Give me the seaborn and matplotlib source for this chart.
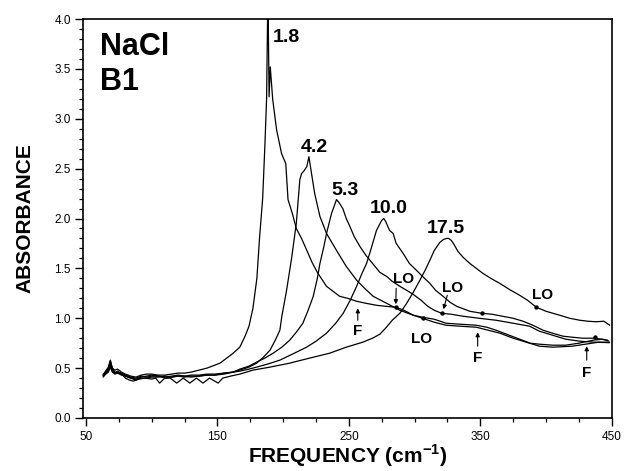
import numpy as np
import pandas as pd
import matplotlib
matplotlib.use("Agg")
import matplotlib.pyplot as plt
from matplotlib.ticker import MultipleLocator, FormatStrFormatter
import seaborn as sns

# ---------------- data ----------------
freq_18 = [63, 65, 67, 68.5, 70, 72, 74, 77, 80, 84, 88, 92, 96, 100, 105, 110, 115, 120, 125, 130,
           136, 142, 148, 152, 157, 162, 167, 171, 174, 177, 180, 182, 184.4, 186, 187.4, 188.4, 189.3,
           190.2, 192, 195, 198.8, 202, 203.7, 207, 210, 214, 218, 222, 226, 230, 233, 238, 243, 249,
           256, 263, 271, 278, 285.7, 292, 299, 306, 315, 324, 335, 347, 355, 362, 372, 380, 388, 395,
           405, 415, 425, 436, 443, 448]
abs_18 = [0.43, 0.47, 0.50, 0.56, 0.50, 0.48, 0.49, 0.46, 0.44, 0.42, 0.41, 0.43, 0.44, 0.44, 0.43, 0.43,
          0.44, 0.45, 0.45, 0.46, 0.48, 0.50, 0.53, 0.55, 0.60, 0.65, 0.71, 0.82, 0.92, 1.10, 1.40, 1.80,
          2.20, 2.70, 3.20, 4.30, 3.22, 3.52, 3.20, 2.89, 2.65, 2.55, 2.19, 2.05, 1.90, 1.80, 1.68, 1.56,
          1.46, 1.38, 1.32, 1.27, 1.22, 1.20, 1.17, 1.15, 1.13, 1.12, 1.11, 1.08, 1.03, 1.01, 0.99, 0.95,
          0.94, 0.93, 0.91, 0.88, 0.83, 0.79, 0.75, 0.74, 0.73, 0.73, 0.75, 0.78, 0.79, 0.77]

freq_42 = [63, 65, 67, 68.5, 70, 72, 74, 77, 80, 84, 88, 92, 96, 100, 105, 110, 115, 120, 125, 130,
           136, 142, 148, 155, 162, 167, 174, 179.8, 185, 190, 194, 197.5, 199, 202.6, 206.4, 210,
           212.7, 214, 216, 218, 219.6, 221.6, 224, 228, 233, 240.6, 248, 256, 262, 268.5, 278.7,
           288.8, 297, 306, 315, 324, 335, 347, 356, 365, 375, 385, 395, 405, 420, 430, 440, 448]
abs_42 = [0.42, 0.45, 0.48, 0.53, 0.47, 0.45, 0.47, 0.44, 0.42, 0.40, 0.39, 0.41, 0.42, 0.43, 0.42, 0.41,
          0.42, 0.43, 0.42, 0.43, 0.43, 0.44, 0.44, 0.45, 0.46, 0.48, 0.51, 0.55, 0.61, 0.68, 0.78, 0.88,
          1.02, 1.28, 1.60, 1.95, 2.39, 2.45, 2.48, 2.52, 2.62, 2.45, 2.25, 2.02, 1.85, 1.68, 1.52, 1.38,
          1.30, 1.22, 1.15, 1.08, 1.04, 1.00, 0.96, 0.93, 0.92, 0.91, 0.88, 0.85, 0.80, 0.76, 0.72, 0.71,
          0.72, 0.74, 0.76, 0.76]

freq_53 = [63, 65, 67, 68.5, 70, 72, 74, 77, 80, 84, 88, 92, 96, 100, 105, 110, 115, 120, 125, 130,
           136, 142, 148, 155, 162, 167, 174, 179.8, 186, 192.4, 199, 205, 210, 215, 219, 222.9, 226,
           228, 231, 233, 236.8, 240.6, 242.5, 245.4, 248, 250.8, 254, 258.4, 263, 268, 273.6, 278.7,
           283, 288.8, 294, 298.9, 305, 310, 315, 320.5, 328, 337, 349, 362, 375, 387.6, 395, 405,
           415, 425.7, 437, 448.5]
abs_53 = [0.44, 0.46, 0.49, 0.57, 0.49, 0.46, 0.46, 0.45, 0.43, 0.41, 0.40, 0.42, 0.41, 0.42, 0.42, 0.40,
          0.41, 0.42, 0.42, 0.41, 0.42, 0.43, 0.43, 0.44, 0.46, 0.49, 0.52, 0.56, 0.60, 0.65, 0.71, 0.78,
          0.86, 0.95, 1.08, 1.22, 1.40, 1.55, 1.72, 1.85, 2.05, 2.19, 2.16, 2.10, 2.00, 1.92, 1.82, 1.72,
          1.63, 1.55, 1.46, 1.42, 1.37, 1.32, 1.28, 1.24, 1.18, 1.12, 1.08, 1.05, 1.04, 1.02, 1.00, 0.98,
          0.95, 0.92, 0.87, 0.83, 0.79, 0.77, 0.76, 0.755]

freq_100 = [63, 65, 67, 68.5, 70, 72, 74, 77, 80, 84, 88, 92, 96, 100, 105, 110, 115, 120, 125, 130,
            136, 142, 148, 155, 162, 167, 174, 179.8, 188, 197.5, 207, 217.8, 225, 233, 240, 245.7, 251,
            255.9, 260, 263.5, 267, 271, 274.9, 276.6, 278, 281, 283.7, 286, 291.3, 296, 301.5, 306,
            311.6, 316, 321.7, 327, 332, 342, 351, 359, 367, 375, 382.5, 390, 397.8, 405, 413, 420,
            428, 437, 447]
abs_100 = [0.41, 0.44, 0.46, 0.51, 0.46, 0.44, 0.45, 0.43, 0.42, 0.40, 0.38, 0.40, 0.40, 0.41, 0.41, 0.42,
           0.41, 0.42, 0.41, 0.42, 0.42, 0.43, 0.43, 0.45, 0.46, 0.47, 0.49, 0.51, 0.54, 0.58, 0.64, 0.71,
           0.77, 0.85, 0.95, 1.05, 1.18, 1.32, 1.45, 1.55, 1.70, 1.88, 1.98, 2.00, 1.97, 1.88, 1.85, 1.75,
           1.65, 1.55, 1.48, 1.42, 1.35, 1.28, 1.22, 1.16, 1.12, 1.07, 1.05, 1.04, 1.02, 1.00, 0.97, 0.93,
           0.88, 0.85, 0.82, 0.81, 0.80, 0.80, 0.78]

freq_175 = [63, 65, 67, 68.5, 70, 72, 74, 77, 80, 83, 86, 90, 95, 100, 103, 106, 110, 114, 119, 124,
            129, 134, 139, 144, 150.5, 154, 160, 167, 177, 190, 205, 220, 235.5, 248, 260.6, 268, 273.6,
            278.6, 283, 288.8, 294, 299, 304, 308, 311.6, 315, 319.2, 322, 324.3, 326, 328, 330, 333,
            337, 342, 347, 352, 358, 364.8, 372, 380, 386, 392.7, 400, 410.5, 418, 425.7, 432, 438, 444,
            448.5]
abs_175 = [0.43, 0.47, 0.51, 0.58, 0.50, 0.45, 0.45, 0.44, 0.40, 0.38, 0.37, 0.39, 0.40, 0.39, 0.40, 0.35,
           0.40, 0.40, 0.35, 0.40, 0.35, 0.40, 0.35, 0.40, 0.35, 0.40, 0.42, 0.44, 0.48, 0.51, 0.55, 0.60,
           0.65, 0.71, 0.76, 0.80, 0.84, 0.91, 0.98, 1.05, 1.15, 1.26, 1.38, 1.48, 1.58, 1.68, 1.76, 1.79,
           1.80, 1.80, 1.78, 1.74, 1.67, 1.61, 1.55, 1.50, 1.45, 1.40, 1.35, 1.29, 1.23, 1.18, 1.11, 1.07,
           1.03, 1.00, 0.98, 0.97, 0.965, 0.97, 0.93]

curve_labels = ["1.8", "4.2", "5.3", "10.0", "17.5"]
curve_freqs = [freq_18, freq_42, freq_53, freq_100, freq_175]
curve_abs = [abs_18, abs_42, abs_53, abs_100, abs_175]

# peak labels: left x, baseline y
peak_label_x = [192.2, 213.5, 236.8, 266.0, 309.0]
peak_label_y = [3.77, 2.67, 2.24, 2.055, 1.855]

# LO markers on curves
lo_dot_freq = [285.7, 320.5, 351.0, 306.6, 392.7, 437.0]
lo_dot_abs = [1.11, 1.05, 1.05, 1.00, 1.11, 0.81]

# LO text (left x, baseline y)
lo_text_x = [283.7, 321.2, 389.7, 297.1]
lo_text_y = [1.35, 1.266, 1.19, 0.75]
# LO arrows (tail -> head)
lo_arrow_tail = [(286.0, 1.30), (324.9, 1.23)]
lo_arrow_head = [(285.7, 1.14), (322.0, 1.09)]

# F markers: x, arrow bottom, arrow top, text baseline
f_x = [256.8, 348.0, 431.0]
f_arrow_bottom = [0.98, 0.72, 0.58]
f_arrow_top = [1.10, 0.86, 0.72]
f_text_y = [0.83, 0.565, 0.414]

x_ticks = [50, 150, 250, 350, 450]

# ---------------- styling ----------------
sns.set_style("ticks")
plt.rcParams["font.family"] = ["Liberation Sans", "DejaVu Sans"]
plt.rcParams["mathtext.fontset"] = "custom"
plt.rcParams["mathtext.rm"] = "Liberation Sans"
plt.rcParams["mathtext.bf"] = "Liberation Sans:bold"
plt.rcParams["text.color"] = "black"
plt.rcParams["axes.labelcolor"] = "black"
plt.rcParams["xtick.color"] = "black"
plt.rcParams["ytick.color"] = "black"

fig = plt.figure(figsize=(6.24, 4.71), dpi=100)
ax = fig.add_axes([83.4 / 624, 53 / 471, (611.7 - 83.4) / 624, (418 - 19) / 471])

rows = []
for lab, fr, ab in zip(curve_labels, curve_freqs, curve_abs):
    for f, a in zip(fr, ab):
        rows.append({"freq": f, "absorbance": a, "temp": lab})
df = pd.DataFrame(rows)

sns.lineplot(data=df, x="freq", y="absorbance", hue="temp", units="temp", estimator=None,
             sort=False, palette=["black"] * 5, linewidth=0.9, legend=False, ax=ax)

sns.scatterplot(x=lo_dot_freq, y=lo_dot_abs, color="black", s=10, linewidth=0, ax=ax, zorder=5)

ax.set_xlim(48, 450)
ax.set_ylim(0, 4.0)
ax.set_xticks(x_ticks)
ax.xaxis.set_minor_locator(MultipleLocator(25))
ax.yaxis.set_major_locator(MultipleLocator(0.5))
ax.yaxis.set_minor_locator(MultipleLocator(0.1))
ax.yaxis.set_major_formatter(FormatStrFormatter("%.1f"))
ax.tick_params(axis="both", which="major", direction="out", length=6, width=1.0,
               labelsize=8.5, colors="black", pad=3)
ax.tick_params(axis="both", which="minor", direction="out", length=3, width=0.9)
for sp in ax.spines.values():
    sp.set_visible(True)
    sp.set_linewidth(1.2)
    sp.set_color("black")

ax.set_xlabel(r"FREQUENCY (cm$^{\mathbf{-1}}$)", fontsize=15, fontweight="bold", labelpad=0)
ax.set_ylabel("ABSORBANCE", fontsize=15, fontweight="bold", labelpad=14)

ax.text(60.6, 3.64, "NaCl", fontsize=22, fontweight="bold", ha="left", va="baseline")
ax.text(60.6, 3.29, "B1", fontsize=22, fontweight="bold", ha="left", va="baseline")

for lab, x, y in zip(curve_labels, peak_label_x, peak_label_y):
    ax.text(x, y, lab, fontsize=14, fontweight="bold", ha="left", va="baseline")

for x, y in zip(lo_text_x, lo_text_y):
    ax.text(x, y, "LO", fontsize=11, fontweight="bold", ha="left", va="baseline")

for t, h in zip(lo_arrow_tail, lo_arrow_head):
    ax.annotate("", xy=h, xytext=t,
                arrowprops=dict(arrowstyle="-|>", lw=0.8, color="black", mutation_scale=6,
                                shrinkA=0, shrinkB=0))

for x, yb, yt, yl in zip(f_x, f_arrow_bottom, f_arrow_top, f_text_y):
    ax.annotate("", xy=(x, yt), xytext=(x, yb),
                arrowprops=dict(arrowstyle="-|>", lw=0.8, color="black", mutation_scale=6,
                                shrinkA=0, shrinkB=0))
    ax.text(x, yl, "F", fontsize=11, fontweight="bold", ha="center", va="baseline")

fig.savefig("out.png", dpi=100)
